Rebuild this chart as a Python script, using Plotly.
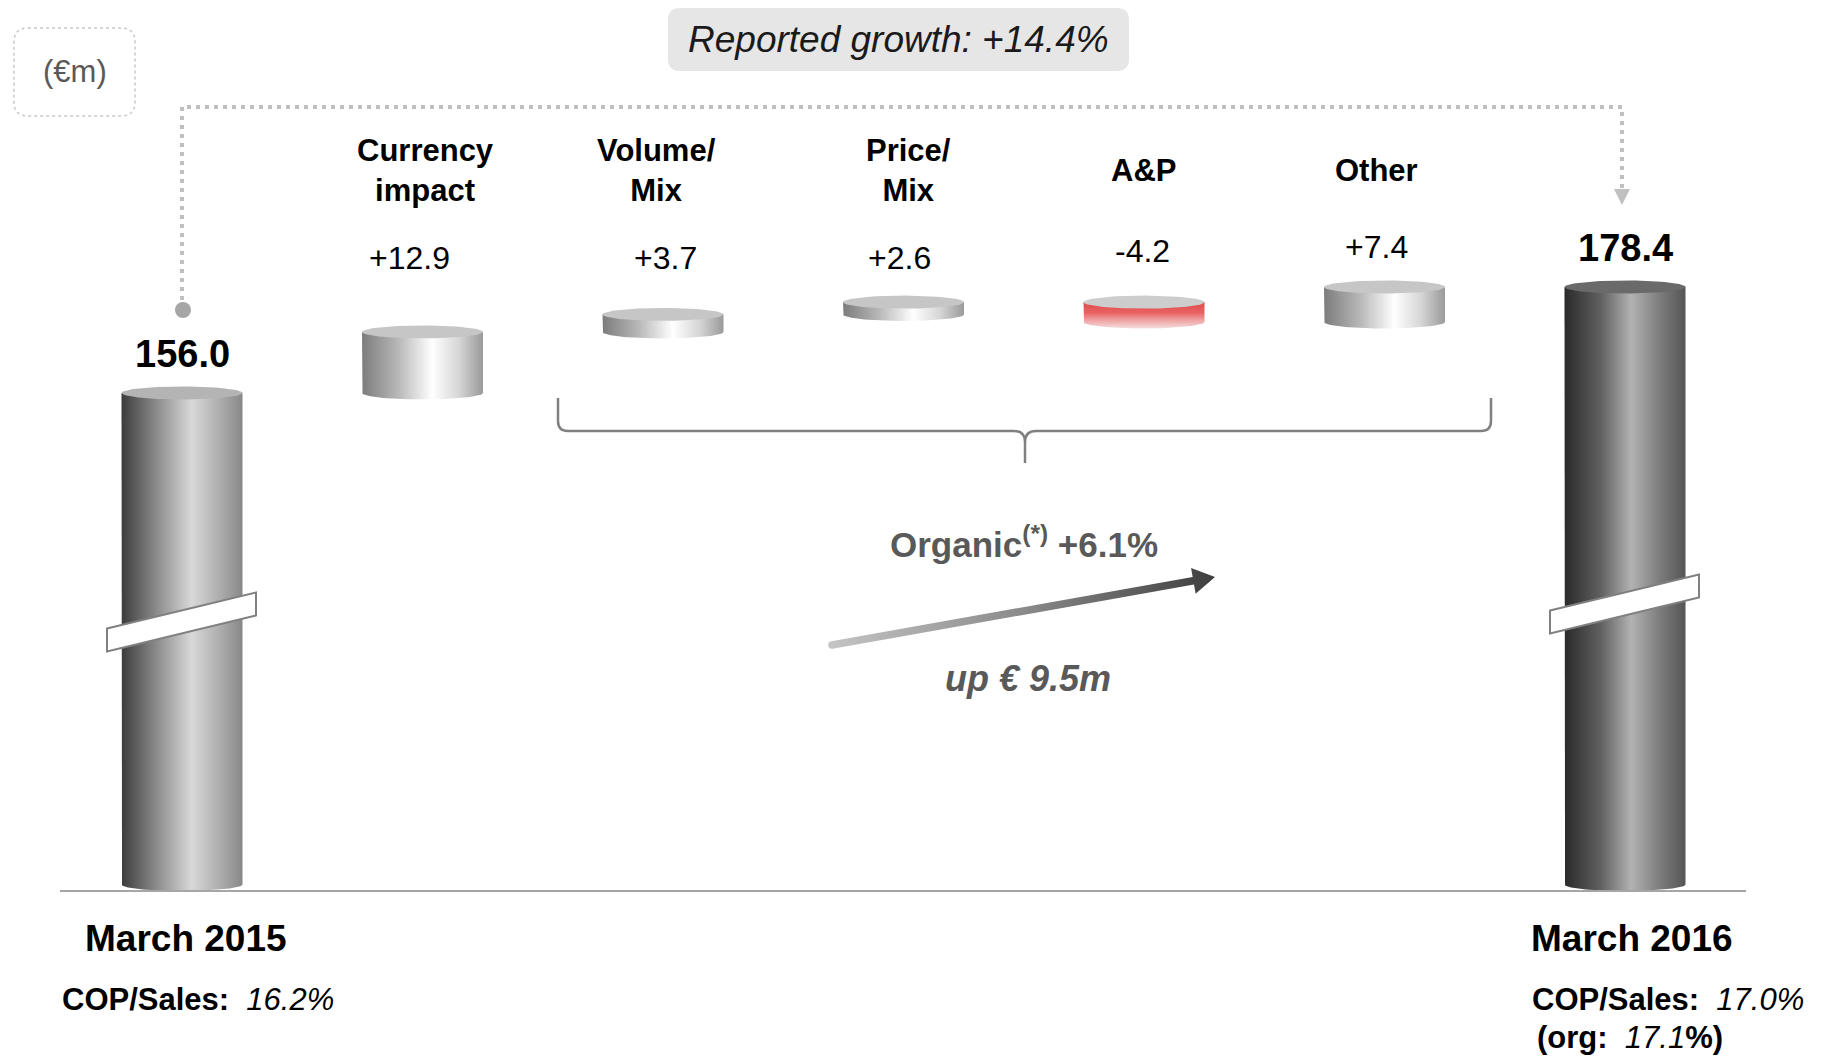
import numpy as np
import plotly.graph_objects as go

# ---- data (EUR m) ----
opening_label = "March 2015"
closing_label = "March 2016"
opening_value = 156.0
closing_value = 178.4
bridge_labels = ["Currency<br>impact", "Volume/<br>Mix", "Price/<br>Mix", "A&P", "Other"]
bridge_deltas = [12.9, 3.7, 2.6, -4.2, 7.4]
reported_growth_pct = 14.4
organic_growth_pct = 6.1
organic_change_m = 9.5
cop_sales_2015 = 16.2
cop_sales_2016 = 17.0
cop_sales_2016_org = 17.1

# ---- canvas / scale ----
W, H = 1821, 1056
BAR0_PX = 182.0          # centre of the first column
BAR_STEP_PX = 240.5      # distance between column centres
BASE_PY = 891.0          # baseline (broken axis floor)
AXIS_FLOOR = 50.7        # value sitting on the baseline
PX_PER_M = 4.73          # pixels per EUR m above the break
BAR_W_PX = 121.0
CAP_RY_PX = 6.5

FONT = "Liberation Sans, Arial, sans-serif"


def px_to_x(px):
    return (px - BAR0_PX) / BAR_STEP_PX


def py_to_y(py):
    return AXIS_FLOOR + (BASE_PY - py) / PX_PER_M


def paper(px, py):
    return px / W, 1 - py / H


HALF_W = BAR_W_PX / 2 / BAR_STEP_PX
CAP_RY = CAP_RY_PX / PX_PER_M

fig = go.Figure()


def cylinder(xc, bottom, top, body_scale, cap_color, grad="horizontal"):
    t = np.linspace(np.pi, 2 * np.pi, 48)
    bx = xc + HALF_W * np.cos(t)
    by = bottom + CAP_RY * np.sin(t)
    xs = [xc - HALF_W, xc - HALF_W] + list(bx) + [xc + HALF_W, xc + HALF_W]
    ys = [top, bottom] + list(by) + [bottom, top]
    fig.add_trace(go.Scatter(
        x=xs, y=ys, mode="lines", fill="toself", line=dict(width=0),
        fillgradient=dict(type=grad, colorscale=body_scale),
        hoverinfo="skip", showlegend=False))
    tc = np.linspace(0, 2 * np.pi, 96)
    fig.add_trace(go.Scatter(
        x=xc + HALF_W * np.cos(tc), y=top + CAP_RY * np.sin(tc),
        mode="lines", fill="toself", line=dict(width=0),
        fillcolor=cap_color, hoverinfo="skip", showlegend=False))


total_scale = [[0, "#3c3c3c"], [0.3, "#8e8e8e"], [0.58, "#d8d8d8"], [0.8, "#b0b0b0"], [1, "#888888"]]
closing_scale = [[0, "#2a2a2a"], [0.3, "#606060"], [0.55, "#b2b2b2"], [0.8, "#7a7a7a"], [1, "#555555"]]
step_scale = [[0, "#7c7c7c"], [0.3, "#b8b8b8"], [0.58, "#ffffff"], [0.8, "#d6d6d6"], [1, "#9a9a9a"]]
neg_scale = [[0, "#f2dede"], [0.3, "#f0a4a4"], [0.6, "#e86262"], [1, "#e04a4a"]]

n_cols = len(bridge_deltas) + 2

# opening column (axis broken below the break marker), resting flat on the baseline
cylinder(0, AXIS_FLOOR + CAP_RY, opening_value, total_scale, "#b4b4b4")

# floating bridge steps
running = opening_value
for i, d in enumerate(bridge_deltas, start=1):
    lo, hi = min(running, running + d), max(running, running + d)
    if d >= 0:
        cylinder(i, lo, hi, step_scale, "#c6c6c6")
    else:
        cylinder(i, lo, hi, neg_scale, "#cdcdcd", grad="vertical")
    running += d

# closing column
cylinder(n_cols - 1, AXIS_FLOOR + CAP_RY, closing_value, closing_scale, "#6a6a6a")

# ---- organic growth arrow (gradient shaft + head) ----
S = np.array([832.0, 645.0])
T = np.array([1215.0, 577.0])
u = (T - S) / np.linalg.norm(T - S)
n = np.array([-u[1], u[0]])
shaft_hw, head_hw, head_len = 3.8, 13.0, 22.0
B = T - u * head_len
poly = [S + n * shaft_hw, B + n * shaft_hw, B + n * head_hw, T,
        B - n * head_hw, B - n * shaft_hw, S - n * shaft_hw, S + n * shaft_hw]
fig.add_trace(go.Scatter(
    x=[px_to_x(p[0]) for p in poly], y=[py_to_y(p[1]) for p in poly],
    mode="lines", fill="toself", line=dict(width=0),
    fillgradient=dict(type="horizontal", colorscale=[[0, "#c4c4c4"], [0.5, "#8a8a8a"], [1, "#3e3e3e"]]),
    hoverinfo="skip", showlegend=False))
fig.add_trace(go.Scatter(
    x=[px_to_x(S[0])], y=[py_to_y(S[1])], mode="markers",
    marker=dict(size=7.6, color="#c4c4c4", line=dict(width=0)),
    hoverinfo="skip", showlegend=False))

# ---- reported growth connector ----
ax_tip = BAR0_PX + (n_cols - 1) * BAR_STEP_PX - 3
conn_px = [(BAR0_PX, 300), (BAR0_PX, 107), (ax_tip, 107), (ax_tip, 190)]
fig.add_trace(go.Scatter(
    x=[px_to_x(p[0]) for p in conn_px], y=[py_to_y(p[1]) for p in conn_px],
    mode="lines", line=dict(color="#c0c0c0", width=4, dash="4px,5px"),
    hoverinfo="skip", showlegend=False))
head = [(ax_tip - 8, 189), (ax_tip + 8, 189), (ax_tip, 205), (ax_tip - 8, 189)]
fig.add_trace(go.Scatter(
    x=[px_to_x(p[0]) for p in head], y=[py_to_y(p[1]) for p in head],
    mode="lines", fill="toself", fillcolor="#c0c0c0", line=dict(width=0),
    hoverinfo="skip", showlegend=False))
fig.add_trace(go.Scatter(
    x=[px_to_x(BAR0_PX + 1)], y=[py_to_y(310)], mode="markers",
    marker=dict(size=16, color="#a6a6a6", line=dict(width=0)),
    hoverinfo="skip", showlegend=False))

# ---- shapes ----
shapes = []


def path_from_px(cmds):
    out = []
    for c in cmds:
        if isinstance(c, str):
            out.append(c)
        else:
            xp, yp = paper(*c)
            out.append(f"{xp:.5f},{yp:.5f}")
    return " ".join(out)


def rounded_rect(x0, y0, x1, y1, r):
    return path_from_px([
        "M", (x0 + r, y0), "L", (x1 - r, y0), "Q", (x1, y0), (x1, y0 + r),
        "L", (x1, y1 - r), "Q", (x1, y1), (x1 - r, y1),
        "L", (x0 + r, y1), "Q", (x0, y1), (x0, y1 - r),
        "L", (x0, y0 + r), "Q", (x0, y0), (x0 + r, y0), "Z"])


# unit box and headline box
shapes.append(dict(type="path", xref="paper", yref="paper",
                   path=rounded_rect(14, 28, 135, 116, 14),
                   line=dict(color="#c8c8c8", width=1.5, dash="dot"), fillcolor="rgba(0,0,0,0)"))
shapes.append(dict(type="path", xref="paper", yref="paper",
                   path=rounded_rect(668, 8, 1129, 71, 12),
                   line=dict(width=0), fillcolor="#e6e6e6", layer="below"))

# baseline
bx0, by0 = paper(60, BASE_PY)
bx1, _ = paper(1746, BASE_PY)
shapes.append(dict(type="line", xref="paper", yref="paper", x0=bx0, x1=bx1, y0=by0, y1=by0,
                   line=dict(color="#a6a6a6", width=2), layer="above"))

# axis-break markers on the two total columns
for col, cy in [(0, 622.0), (n_cols - 1, 604.0)]:
    cx = BAR0_PX + col * BAR_STEP_PX
    shapes.append(dict(type="path", xref="paper", yref="paper",
                       path=path_from_px(["M", (cx - 75, cy + 6.5), "L", (cx + 74, cy - 29.5),
                                          "L", (cx + 74, cy - 6.5), "L", (cx - 75, cy + 29.5), "Z"]),
                       fillcolor="white", line=dict(color="#808080", width=2), layer="above"))

# brace over the organic steps
shapes.append(dict(type="path", xref="paper", yref="paper",
                   path=path_from_px(["M", (558, 398), "L", (558, 421), "Q", (558, 431), (568, 431),
                                      "L", (1014, 431), "Q", (1025, 431), (1025, 442), "L", (1025, 463),
                                      "M", (1025, 442), "Q", (1025, 431), (1036, 431),
                                      "L", (1481, 431), "Q", (1491, 431), (1491, 421), "L", (1491, 398)]),
                   line=dict(color="#808080", width=2.5), fillcolor="rgba(0,0,0,0)"))

# ---- annotations ----
ann = []


def text_px(px, py, txt, size, color="#000000", xanchor="center", yanchor="middle"):
    xp, yp = paper(px, py)
    ann.append(dict(xref="paper", yref="paper", x=xp, y=yp, text=txt, showarrow=False,
                    xanchor=xanchor, yanchor=yanchor,
                    font=dict(family=FONT, size=size, color=color)))


text_px(75, 71, "(€m)", 31, "#595959")
text_px(898, 39, f"<i>Reported growth: +{reported_growth_pct:.1f}%</i>", 37, "#1a1a1a")

label_px = [425, 656, 908, 1143, 1376]
value_px = [409, 665, 899, 1142, 1376]
value_py = [258, 258, 258, 251, 247]
for i, (lab, d) in enumerate(zip(bridge_labels, bridge_deltas)):
    text_px(label_px[i], 171, f"<b>{lab}</b>", 31)
    text_px(value_px[i], value_py[i], f"{d:+.1f}", 32)

# totals on top of the columns
for col, v in [(0, opening_value), (n_cols - 1, closing_value)]:
    ann.append(dict(x=col, y=v, xref="x", yref="y", text=f"<b>{v:.1f}</b>", showarrow=False,
                    yanchor="bottom", yshift=16, font=dict(family=FONT, size=38, color="#000000")))

text_px(1024, 542, f"<b>Organic<sup>(*)</sup> +{organic_growth_pct:.1f}%</b>", 35, "#595959")
text_px(1028, 678, f"<b><i>up € {organic_change_m:.1f}m</i></b>", 36, "#595959")

text_px(186, 938, f"<b>{opening_label}</b>", 37)
text_px(1632, 938, f"<b>{closing_label}</b>", 37)
text_px(60, 999, f"<b>COP/Sales:</b>  <i>{cop_sales_2015:.1f}%</i>", 31, xanchor="left")
text_px(1530, 999, f"<b>COP/Sales:</b>  <i>{cop_sales_2016:.1f}%</i>", 31, xanchor="left")
text_px(1535, 1037, f"<b>(org:</b>  <i>{cop_sales_2016_org:.1f}</i><b>%)</b>", 31, xanchor="left")

fig.update_layout(
    width=W, height=H, margin=dict(l=0, r=0, t=0, b=0),
    paper_bgcolor="white", plot_bgcolor="white", showlegend=False,
    xaxis=dict(visible=False, range=[px_to_x(0), px_to_x(W)], fixedrange=True),
    yaxis=dict(visible=False, range=[py_to_y(H), py_to_y(0)], fixedrange=True),
    shapes=shapes, annotations=ann,
)

fig.write_html("out.html")
